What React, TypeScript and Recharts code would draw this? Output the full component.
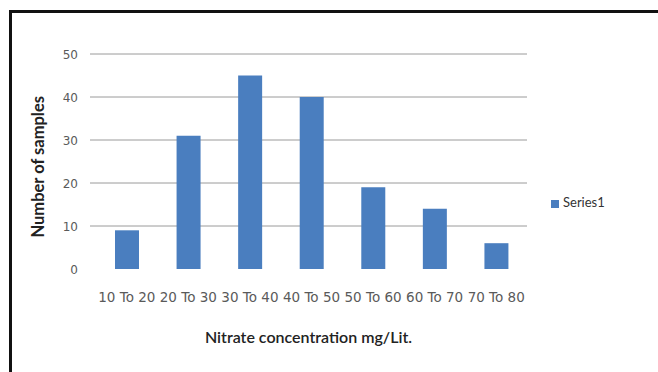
import React from "react";
import { BarChart, Bar, XAxis, YAxis, CartesianGrid, Legend } from "recharts";

const categories = [
  "10 To 20",
  "20 To 30",
  "30 To 40",
  "40 To 50",
  "50 To 60",
  "60 To 70",
  "70 To 80",
];
const series1 = [9, 31, 45, 40, 19, 14, 6];
const yTicks = [0, 10, 20, 30, 40, 50];

const data = categories.map((c, i) => ({ range: c, Series1: series1[i] }));

const FONT = "Lato, 'Open Sans', sans-serif";
const TICK_FONT = "'DejaVu Sans', Verdana, sans-serif";
const BAR = "#4a7ebf";

// plain svg ticks so the font family actually sticks
const XTick = (props: any) => {
  const { x, y, payload } = props;
  return (
    <text x={x} y={y} dy={9} textAnchor="middle" fill="#5a5a5a" style={{ fontFamily: TICK_FONT, fontSize: 13.5 }}>
      {payload.value}
    </text>
  );
};

const YTick = (props: any) => {
  const { x, y, payload } = props;
  return (
    <text x={x} y={y} dy={5} textAnchor="end" fill="#5a5a5a" style={{ fontFamily: TICK_FONT, fontSize: 12 }}>
      {payload.value}
    </text>
  );
};

export default function App() {
  return (
    <div
      style={{
        position: "absolute",
        left: 0,
        top: 0,
        width: 658,
        height: 372,
        background: "#fff",
        overflow: "hidden",
        fontFamily: FONT,
      }}
    >
      {/* frame: only top and left edges show in the source */}
      <div
        style={{
          position: "absolute",
          left: 9,
          top: 10,
          width: 700,
          height: 400,
          borderTop: "3px solid #111",
          borderLeft: "3px solid #111",
        }}
      />
      <div style={{ position: "absolute", left: 0, top: 0 }}>
        <BarChart
          width={658}
          height={372}
          data={data}
          margin={{ top: 54, right: 51, bottom: 20, left: 34 }}
        >
          <CartesianGrid vertical={false} stroke="#9a9a9a" strokeWidth={1} horizontalValues={[10, 20, 30, 40, 50]} />
          <XAxis
            dataKey="range"
            axisLine={false}
            tickLine={false}
            tickSize={0}
            tickMargin={24}
            height={83}
            padding={{ left: 6, right: 0 }}
            interval={0}
            tick={<XTick />}
            label={{
              value: "Nitrate concentration mg/Lit.",
              position: "insideBottom",
              offset: 9,
              style: { fontSize: 16, fill: "#222", fontFamily: FONT, fontWeight: 600 },
            }}
          />
          <YAxis
            width={56}
            domain={[0, 50]}
            ticks={yTicks}
            axisLine={false}
            tickLine={false}
            tickSize={0}
            tickMargin={12}
            tick={<YTick />}
            label={{
              value: "Number  of samples",
              angle: -90,
              position: "insideLeft",
              offset: 4,
              dy: 76,
              style: { fontSize: 16.5, fill: "#222", fontFamily: FONT, fontWeight: 700 },
            }}
          />
          <Legend
            layout="vertical"
            align="right"
            verticalAlign="top"
            iconType="square"
            iconSize={8}
            wrapperStyle={{ position: "absolute", left: 551, top: 194, width: 80, fontSize: 13, color: "#333", fontFamily: FONT }}
            formatter={(v) => <span style={{ color: "#333" }}>{v}</span>}
          />
          <Bar dataKey="Series1" fill={BAR} barSize={24} isAnimationActive={false} />
        </BarChart>
      </div>
    </div>
  );
}
